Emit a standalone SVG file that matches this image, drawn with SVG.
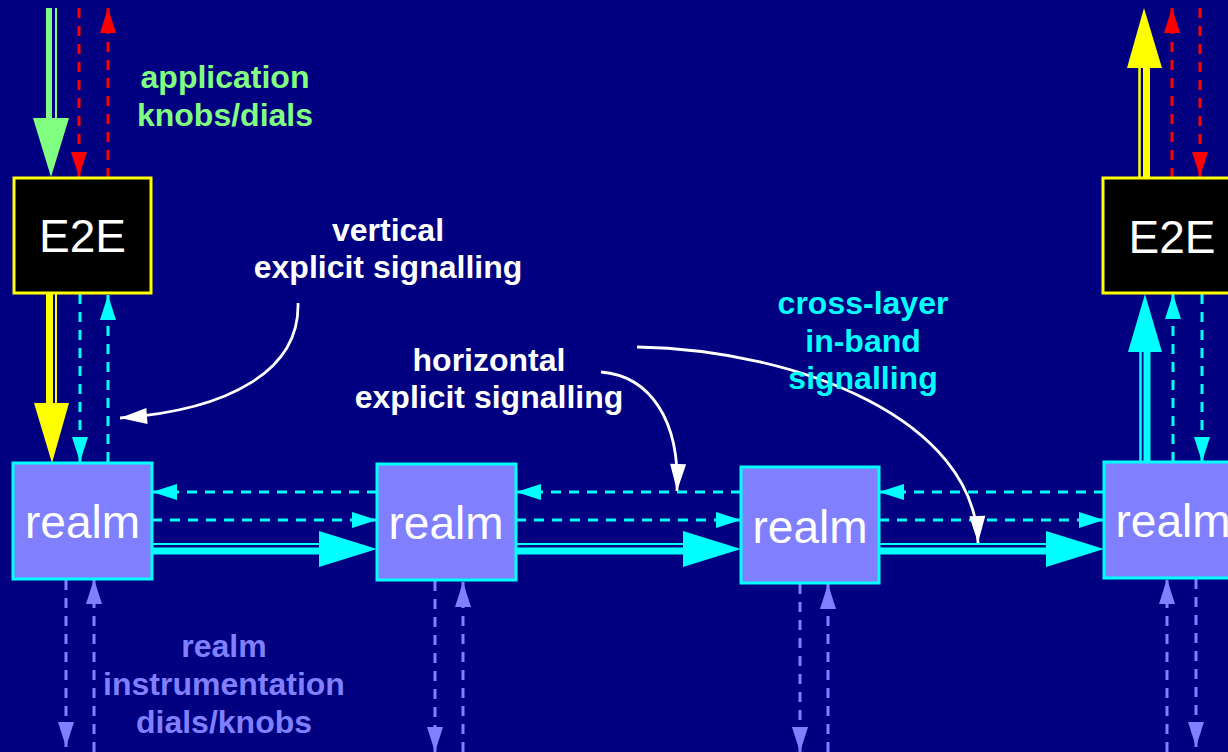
<svg xmlns="http://www.w3.org/2000/svg" width="1228" height="752" viewBox="0 0 1228 752">
<style>
.bg{fill:#000080}
.e2e rect{fill:#000;stroke:#FFFF00;stroke-width:3}
.realm rect{fill:#8080FF;stroke:#00FFFF;stroke-width:3}
.nt{font-family:"Liberation Sans",Arial,sans-serif;font-size:46px;fill:#fff;text-anchor:middle}
.lbl{font-family:"Liberation Sans",Arial,sans-serif;font-size:32px;font-weight:bold;text-anchor:middle}
.dr{stroke:#FF0000;stroke-width:3;stroke-dasharray:10 8;fill:none;marker-end:url(#hr)}
.dc{stroke:#00FFFF;stroke-width:3;stroke-dasharray:10 8;fill:none;marker-end:url(#hc)}
.dp{stroke:#8080FF;stroke-width:3;stroke-dasharray:10 8;fill:none;marker-end:url(#hp)}
.cw{stroke:#fff;stroke-width:2.8;fill:none;marker-end:url(#hw)}
</style>
<defs>
<marker id="hr" markerUnits="userSpaceOnUse" markerWidth="26" markerHeight="16" refX="25" refY="8" orient="auto" overflow="visible"><path d="M0,0 L25,8 L0,16 z" fill="#FF0000"/></marker>
<marker id="hc" markerUnits="userSpaceOnUse" markerWidth="26" markerHeight="16" refX="25" refY="8" orient="auto" overflow="visible"><path d="M0,0 L25,8 L0,16 z" fill="#00FFFF"/></marker>
<marker id="hp" markerUnits="userSpaceOnUse" markerWidth="26" markerHeight="16" refX="25" refY="8" orient="auto" overflow="visible"><path d="M0,0 L25,8 L0,16 z" fill="#8080FF"/></marker>
<marker id="hw" markerUnits="userSpaceOnUse" markerWidth="28" markerHeight="16" refX="27" refY="8" orient="auto" overflow="visible"><path d="M0,0 L27,8 L0,16 z" fill="#fff"/></marker>
</defs>
<rect class="bg" x="0" y="0" width="1228" height="752"/>

<g id="connectors">
  <line x1="49" y1="8" x2="49" y2="120" stroke="#80FF80" stroke-width="6"/>
  <line x1="56" y1="8" x2="56" y2="120" stroke="#80FF80" stroke-width="2"/>
  <polygon points="33,118 69,118 51,177" fill="#80FF80"/>
  <line class="dr" x1="79" y1="8" x2="79" y2="177"/>
  <line class="dr" x1="108" y1="178" x2="108" y2="8"/>
  <line x1="49.5" y1="294" x2="49.5" y2="405" stroke="#FFFF00" stroke-width="7"/>
  <line x1="56" y1="294" x2="56" y2="405" stroke="#FFFF00" stroke-width="2"/>
  <polygon points="34,403 69,403 52,463" fill="#FFFF00"/>
  <line class="dc" x1="80" y1="294" x2="80" y2="462"/>
  <line class="dc" x1="108" y1="462" x2="108" y2="295"/>
  <line x1="1139.5" y1="178" x2="1139.5" y2="66" stroke="#FFFF00" stroke-width="2.5"/>
  <line x1="1146.5" y1="178" x2="1146.5" y2="66" stroke="#FFFF00" stroke-width="7"/>
  <polygon points="1127,68 1162,68 1144,8" fill="#FFFF00"/>
  <line class="dr" x1="1172" y1="178" x2="1172" y2="8"/>
  <line class="dr" x1="1200" y1="8" x2="1200" y2="177"/>
  <line x1="1140.5" y1="462" x2="1140.5" y2="350" stroke="#00FFFF" stroke-width="2.5"/>
  <line x1="1147" y1="462" x2="1147" y2="350" stroke="#00FFFF" stroke-width="7"/>
  <polygon points="1128,352 1162,352 1145,294" fill="#00FFFF"/>
  <line class="dc" x1="1173" y1="462" x2="1173" y2="294"/>
  <line class="dc" x1="1202" y1="294" x2="1202" y2="462"/>
  <line class="dc" x1="377" y1="492" x2="152" y2="492"/>
  <line class="dc" x1="152" y1="520" x2="377" y2="520"/>
  <line x1="152" y1="544" x2="322" y2="544" stroke="#00FFFF" stroke-width="2"/>
  <line x1="152" y1="551" x2="322" y2="551" stroke="#00FFFF" stroke-width="7"/>
  <polygon points="319,531 319,567 377,549" fill="#00FFFF"/>
  <line class="dc" x1="741" y1="492" x2="516" y2="492"/>
  <line class="dc" x1="516" y1="520" x2="741" y2="520"/>
  <line x1="516" y1="544" x2="686" y2="544" stroke="#00FFFF" stroke-width="2"/>
  <line x1="516" y1="551" x2="686" y2="551" stroke="#00FFFF" stroke-width="7"/>
  <polygon points="683,531 683,567 741,549" fill="#00FFFF"/>
  <line class="dc" x1="1104" y1="492" x2="879" y2="492"/>
  <line class="dc" x1="879" y1="520" x2="1104" y2="520"/>
  <line x1="879" y1="544" x2="1049" y2="544" stroke="#00FFFF" stroke-width="2"/>
  <line x1="879" y1="551" x2="1049" y2="551" stroke="#00FFFF" stroke-width="7"/>
  <polygon points="1046,531 1046,567 1104,549" fill="#00FFFF"/>
  <line class="dp" x1="66" y1="580" x2="66" y2="747"/>
  <line class="dp" x1="94" y1="752" x2="94" y2="579"/>
  <line class="dp" x1="435" y1="581" x2="435" y2="752"/>
  <line class="dp" x1="463" y1="752" x2="463" y2="582"/>
  <line class="dp" x1="800" y1="584" x2="800" y2="752"/>
  <line class="dp" x1="828" y1="752" x2="828" y2="584"/>
  <line class="dp" x1="1167" y1="752" x2="1167" y2="579"/>
  <line class="dp" x1="1196" y1="579" x2="1196" y2="747"/>
  <path class="cw" d="M298,303 C300,370 230,410 120,418"/>
  <path class="cw" d="M601,372 C650,376 680,420 677,491"/>
  <path class="cw" d="M637,347 C800,350 975,420 978,543"/>
</g>

<g id="e2e-left" class="e2e"><rect x="14" y="178" width="137" height="115"/><text class="nt" x="82.5" y="252">E2E</text></g>
<g id="e2e-right" class="e2e"><rect x="1103" y="178" width="140" height="115"/><text class="nt" x="1172" y="253">E2E</text></g>
<g id="realm1" class="realm"><rect x="13" y="463" width="139" height="116"/><text class="nt" x="82.5" y="538">realm</text></g>
<g id="realm2" class="realm"><rect x="377" y="464" width="139" height="116"/><text class="nt" x="446" y="539">realm</text></g>
<g id="realm3" class="realm"><rect x="741" y="467" width="138" height="116"/><text class="nt" x="810" y="543">realm</text></g>
<g id="realm4" class="realm"><rect x="1104" y="462" width="140" height="116"/><text class="nt" x="1173" y="537">realm</text></g>

<g id="labels">
  <text class="lbl" fill="#80FF80"><tspan x="225" y="88">application</tspan><tspan x="225" y="126">knobs/dials</tspan></text>
  <text class="lbl" fill="#fff"><tspan x="388" y="241">vertical</tspan><tspan x="388" y="278">explicit signalling</tspan></text>
  <text class="lbl" fill="#fff"><tspan x="489" y="371">horizontal</tspan><tspan x="489" y="408">explicit signalling</tspan></text>
  <text class="lbl" fill="#00FFFF"><tspan x="863" y="314">cross-layer</tspan><tspan x="863" y="352">in-band</tspan><tspan x="863" y="389">signalling</tspan></text>
  <text class="lbl" fill="#8080FF"><tspan x="224" y="657">realm</tspan><tspan x="224" y="695">instrumentation</tspan><tspan x="224" y="733">dials/knobs</tspan></text>
</g>
</svg>
